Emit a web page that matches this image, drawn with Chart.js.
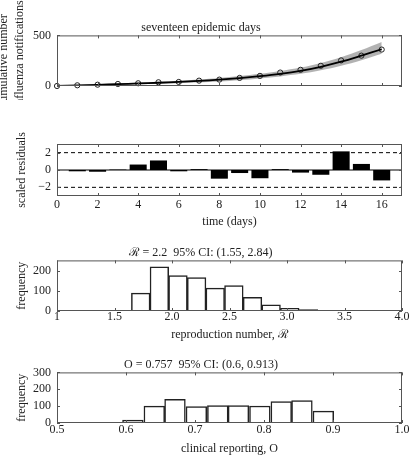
<!DOCTYPE html>
<html>
<head>
<meta charset="utf-8">
<script src="https://cdn.jsdelivr.net/npm/chart.js@4"></script>
<style>
  body { margin: 0; background: #fff; width: 411px; height: 456px; position: relative; overflow: hidden; }
  canvas { position: absolute; left: 0; }
</style>
</head>
<body>
<canvas id="c1" width="411" height="100" style="top:0px"></canvas>
<canvas id="c2" width="411" height="135" style="top:100px"></canvas>
<canvas id="c3" width="411" height="110" style="top:235px"></canvas>
<canvas id="c4" width="411" height="111" style="top:345px"></canvas>
<script>
// donnees
const days = [0, 1, 2, 3, 4, 5, 6, 7, 8, 9, 10, 11, 12, 13, 14, 15, 16];
const observed = [0, 7, 13, 20, 27, 37, 40, 53, 63, 80, 100, 133, 160, 200, 253, 300, 360];
const fitted = [0, 6, 12, 18, 25, 32, 40, 50, 62, 78, 97, 120, 150, 190, 240, 300, 363];
const bandLow = [0, 3, 7, 12, 16, 22, 28, 36, 45, 58, 75, 95, 120, 155, 200, 255, 318];
const bandHigh = [3, 10, 17, 25, 33, 43, 53, 65, 80, 98, 120, 148, 182, 228, 285, 355, 435];
const dayTicks = [0, 2, 4, 6, 8, 10, 12, 14, 16];

const resDays = [1, 2, 3, 4, 5, 6, 7, 8, 9, 10, 11, 12, 13, 14, 15, 16];
const residuals = [-0.15, -0.2, 0.05, 0.63, 1.1, -0.15, 0.1, -1.0, -0.35, -0.95, 0.1, -0.3, -0.55, 2.15, 0.7, -1.2];
const refLevels = [2, -2];
const resTicks = [-2, 0, 2];

const rCenters = [1.728, 1.890, 2.052, 2.214, 2.376, 2.538, 2.700, 2.862, 3.024, 3.186];
const rCounts = [88, 218, 175, 165, 113, 125, 68, 30, 13, 7];
const rTicks = [1, 1.5, 2, 2.5, 3, 3.5, 4];
const rLabels = ['1', '1.5', '2.0', '2.5', '3.0', '3.5', '4.0'];

const oCenters = [0.610, 0.641, 0.671, 0.702, 0.733, 0.763, 0.794, 0.825, 0.855, 0.886];
const oCounts = [17, 100, 140, 97, 104, 103, 101, 127, 133, 70];
const oTicks = [0.5, 0.6, 0.7, 0.8, 0.9, 1.0];
const oLabels = ['0.5', '0.6', '0.7', '0.8', '0.9', '1.0'];

const serif = 'Liberation Serif';
const tickFont = { family: serif, size: 12, lineHeight: 1 };
const titleFont = { family: serif, size: 12, weight: 'normal' };
const ink = '#222';

// cadre + petites graduations vers l'interieur (style matlab)
const boxTicks = {
    id: 'boxTicks',
    afterDraw(chart) {
        const ctx = chart.ctx;
        const a = chart.chartArea;
        const sx = chart.scales.x, sy = chart.scales.y;
        ctx.save();
        ctx.strokeStyle = '#555';
        ctx.lineWidth = 1;
        ctx.strokeRect(a.left + 0.5, a.top + 0.5, a.width - 1, a.height - 1);
        const L = 3;
        ctx.beginPath();
        sx.ticks.forEach(t => {
            const px = Math.round(sx.getPixelForValue(t.value)) + 0.5;
            ctx.moveTo(px, a.top); ctx.lineTo(px, a.top + L);
            ctx.moveTo(px, a.bottom); ctx.lineTo(px, a.bottom - L);
        });
        sy.ticks.forEach(t => {
            const py = Math.round(sy.getPixelForValue(t.value)) + 0.5;
            ctx.moveTo(a.left, py); ctx.lineTo(a.left + L, py);
            ctx.moveTo(a.right, py); ctx.lineTo(a.right - L, py);
        });
        ctx.stroke();
        ctx.restore();
    }
};

function fixedTicks(list) {
    return function(scale) {
        scale.ticks = list.map(v => ({ value: v }));
    };
}

function xAxis(min, max, tickList, labels, height, title, tickPad, titlePad) {
    return {
        type: 'linear', min: min, max: max, offset: false,
        afterBuildTicks: fixedTicks(tickList),
        afterFit: s => { s.height = height; },
        grid: { display: false, drawTicks: false, offset: false },
        border: { display: false },
        ticks: {
            display: labels !== null,
            font: tickFont, color: ink, padding: tickPad, maxRotation: 0, autoSkip: false,
            callback: v => labels ? labels[tickList.indexOf(v)] : ''
        },
        title: { display: !!title, text: title, font: titleFont, color: ink, padding: { top: 0, bottom: titlePad } }
    };
}

function yAxis(min, max, tickList, title, titlePad) {
    return {
        type: 'linear', min: min, max: max,
        afterBuildTicks: fixedTicks(tickList),
        afterFit: s => { s.width = 57; },
        grid: { display: false, drawTicks: false },
        border: { display: false },
        ticks: {
            font: tickFont, color: ink, padding: 6, autoSkip: false,
            callback: v => String(v).replace('-', '\u2212')
        },
        title: {
            display: true, text: title, color: ink,
            font: { family: serif, size: 12, weight: 'normal', lineHeight: 1.3 },
            padding: { top: titlePad, bottom: 0 }
        }
    };
}

function baseOptions(padTop, titleText, scales) {
    return {
        responsive: false,
        animation: false,
        devicePixelRatio: 1,
        layout: { padding: { top: padTop, right: 9, left: 0, bottom: 0 } },
        plugins: {
            legend: { display: false },
            tooltip: { enabled: false },
            title: {
                display: !!titleText, text: titleText, font: titleFont, color: ink,
                padding: { top: 0, bottom: 0 }
            }
        },
        scales: scales
    };
}

// 1 - courbe cumulee
new Chart(document.getElementById('c1'), {
    type: 'line',
    data: {
        datasets: [
            {
                data: days.map((d, i) => ({ x: d, y: fitted[i] })),
                borderColor: '#000', borderWidth: 1.8, pointRadius: 0, tension: 0.3
            },
            {
                data: days.map((d, i) => ({ x: d, y: observed[i] })),
                showLine: false, pointRadius: 2.6, pointBorderWidth: 1, clip: false,
                pointBorderColor: '#222', pointBackgroundColor: 'rgba(0,0,0,0)'
            },
            {
                data: days.map((d, i) => ({ x: d, y: bandHigh[i] })),
                borderWidth: 0, pointRadius: 0, fill: '+1', tension: 0.3,
                backgroundColor: 'rgba(165,165,165,0.85)'
            },
            {
                data: days.map((d, i) => ({ x: d, y: bandLow[i] })),
                borderWidth: 0, pointRadius: 0, fill: false, tension: 0.3
            }
        ]
    },
    options: baseOptions(21, 'seventeen epidemic days', {
        x: xAxis(0, 17, dayTicks, null, 14, '', 0, 0),
        y: yAxis(0, 500, [0, 500], ['cumulative number', 'of influenza notifications'], -4)
    }),
    plugins: [boxTicks]
});

// 2 - residus
new Chart(document.getElementById('c2'), {
    type: 'bar',
    data: {
        datasets: [
            {
                type: 'line',
                data: [{ x: 0, y: 0 }, { x: 17, y: 0 }],
                borderColor: '#000', borderWidth: 1, pointRadius: 0
            },
            {
                type: 'line',
                data: [{ x: 0, y: refLevels[0] }, { x: 17, y: refLevels[0] }],
                borderColor: '#000', borderWidth: 1, borderDash: [4, 3], pointRadius: 0
            },
            {
                type: 'line',
                data: [{ x: 0, y: refLevels[1] }, { x: 17, y: refLevels[1] }],
                borderColor: '#000', borderWidth: 1, borderDash: [4, 3], pointRadius: 0
            },
            {
                data: resDays.map((d, i) => ({ x: d, y: residuals[i] })),
                backgroundColor: '#000', borderColor: '#000', borderWidth: 0,
                barPercentage: 0.84, categoryPercentage: 1, grouped: false
            }
        ]
    },
    options: baseOptions(44, '', {
        x: xAxis(0, 17, dayTicks, dayTicks.map(String), 39, 'time (days)', 3, 6),
        y: yAxis(-3, 3, resTicks, 'scaled residuals', 14)
    }),
    plugins: [boxTicks]
});

// 3 - histogramme R
new Chart(document.getElementById('c3'), {
    type: 'bar',
    data: {
        datasets: [{
            data: rCenters.map((c, i) => ({ x: c, y: rCounts[i] })),
            backgroundColor: '#fff', borderColor: '#222', borderWidth: 1.5,
            barPercentage: 1, categoryPercentage: 1, grouped: false
        }]
    },
    options: baseOptions(11, '\u211B = 2.2  95% CI: (1.55, 2.84)', {
        x: xAxis(1, 4, rTicks, rLabels, 34, 'reproduction number, \u211B', 0, 3),
        y: yAxis(0, 250, [0, 100, 200], 'frequency', 14)
    }),
    plugins: [boxTicks]
});

// 4 - histogramme O
new Chart(document.getElementById('c4'), {
    type: 'bar',
    data: {
        datasets: [{
            data: oCenters.map((c, i) => ({ x: c, y: oCounts[i] })),
            backgroundColor: '#fff', borderColor: '#222', borderWidth: 1.5,
            barPercentage: 1, categoryPercentage: 1, grouped: false
        }]
    },
    options: baseOptions(13, 'O = 0.757  95% CI: (0.6, 0.913)', {
        x: xAxis(0.5, 1.0, oTicks, oLabels, 33, 'clinical reporting, O', 1, 0),
        y: yAxis(0, 300, [0, 100, 200, 300], 'frequency', 14)
    }),
    plugins: [boxTicks]
});
</script>
</body>
</html>
